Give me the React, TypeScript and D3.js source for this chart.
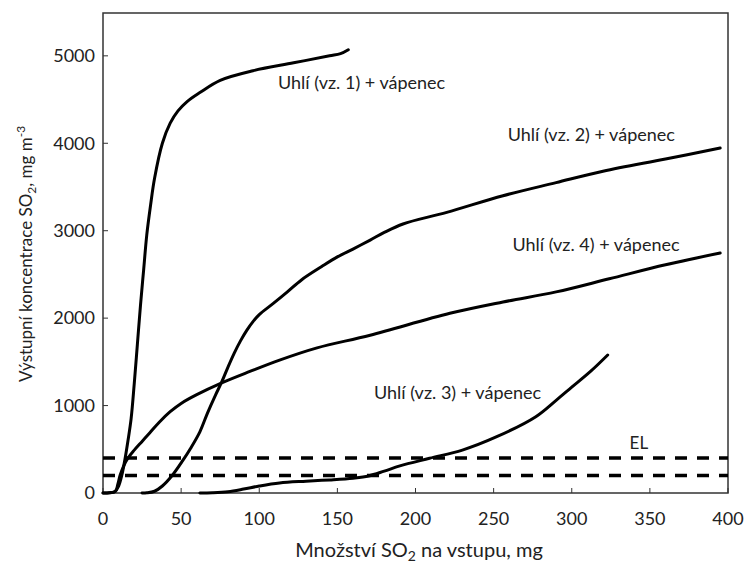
import React from 'react';
import * as d3 from 'd3';

// series (x = mg SO2 in, y = mg/m3 out)
const coal1: [number, number][] = [
  [0, 0], [4, 3], [7.5, 15], [10, 80], [12, 200], [14, 380], [16, 600], [18, 850],
  [20, 1250], [22, 1700], [24, 2150], [26, 2550], [28, 2950], [30.5, 3300], [33, 3600],
  [38, 4000], [43, 4230], [48, 4370], [54, 4480], [62, 4580], [75, 4720], [96, 4830],
  [122, 4920], [145, 5000], [152, 5025], [157, 5070],
];
const coal2: [number, number][] = [
  [25, 0], [28, 2], [33, 20], [38, 80], [44, 194], [51, 370], [56, 510], [62, 700],
  [67, 920], [72, 1120], [76, 1270], [80, 1440], [84, 1600], [88, 1740], [92, 1860],
  [96, 1960], [100, 2040], [109, 2168], [118, 2300], [127, 2437], [140, 2590], [150, 2700],
  [160, 2790], [171, 2893], [180, 2980], [192, 3077], [220, 3210], [256, 3400], [290, 3550],
  [320, 3680], [360, 3820], [395, 3945],
];
const coal3: [number, number][] = [
  [62, 0], [70, 3], [80, 15], [90, 45], [100, 80], [113, 115], [130, 135], [145, 150],
  [160, 170], [170, 195], [180, 250], [190, 310], [209, 397], [230, 491], [252, 644],
  [277, 873], [290, 1060], [300, 1210], [312, 1390], [323, 1578],
];
const coal4: [number, number][] = [
  [0, 0], [4, 2], [8, 20], [9.5, 100], [10.9, 200], [13, 300], [16, 400], [20, 490],
  [25, 590], [30, 690], [36, 810], [43, 930], [50, 1025], [60, 1125], [76, 1260], [94, 1390],
  [113, 1520], [137, 1660], [171, 1805], [222, 2055], [256, 2185], [290, 2300], [324, 2450],
  [360, 2610], [395, 2745],
];
const seriesNames = ['Uhlí (vz. 1) + vápenec', 'Uhlí (vz. 2) + vápenec', 'Uhlí (vz. 3) + vápenec', 'Uhlí (vz. 4) + vápenec'];
// label anchor points in data units
const labelAt: [number, number][] = [[112, 4690], [259, 4095], [173.4, 1144], [262, 2837]];
const limitLines = [400, 200];
const xTicks = [0, 50, 100, 150, 200, 250, 300, 350, 400];
const yTicks = [0, 1000, 2000, 3000, 4000, 5000];

const W = 748, H = 563;
const m = { top: 13, right: 20, bottom: 70, left: 103 };
const font = 'Lato, "Open Sans", sans-serif';
const ink = '#222';

export default function App() {
  const x = d3.scaleLinear().domain([0, 400]).range([m.left, W - m.right]);
  const y = d3.scaleLinear().domain([0, 5490]).range([H - m.bottom, m.top]);
  const line = d3.line<[number, number]>()
    .x(d => x(d[0]))
    .y(d => y(d[1]))
    .curve(d3.curveCatmullRom.alpha(0.5));
  const all = [coal1, coal2, coal3, coal4];

  return (
    <svg width={W} height={H} style={{ position: 'absolute', left: 0, top: 0, background: '#fff' }}
      fontFamily={font}>
      {/* frame */}
      <rect x={x(0)} y={y(5490)} width={x(400) - x(0)} height={y(0) - y(5490)}
        fill="none" stroke="#333" strokeWidth={1.5} />

      {/* ticks, pointing inward */}
      {xTicks.map(t => (
        <g key={'x' + t}>
          <line x1={x(t)} x2={x(t)} y1={y(0)} y2={y(0) - 5} stroke="#333" strokeWidth={1} />
          <text x={x(t)} y={y(0) + 32} textAnchor="middle" fontSize={18} fill={ink}>{t}</text>
        </g>
      ))}
      {yTicks.map(t => (
        <g key={'y' + t}>
          <line x1={x(0)} x2={x(0) + 5} y1={y(t)} y2={y(t)} stroke="#333" strokeWidth={1} />
          <text x={x(0) - 8} y={y(t)} dy="0.35em" textAnchor="end" fontSize={18} fill={ink}>{t}</text>
        </g>
      ))}

      {/* limit lines */}
      {limitLines.map(v => (
        <line key={'el' + v} x1={x(0)} x2={x(400)} y1={y(v)} y2={y(v)}
          stroke="#000" strokeWidth={3.5} strokeDasharray="12 10" />
      ))}
      <text x={x(337)} y={y(572)} dy="0.35em" fontSize={17} fill={ink}>EL</text>

      {all.map((s, i) => (
        <path key={i} d={line(s) ?? ''} fill="none" stroke="#000" strokeWidth={3}
          strokeLinejoin="round" strokeLinecap="round" />
      ))}
      {seriesNames.map((n, i) => (
        <text key={n} x={x(labelAt[i][0])} y={y(labelAt[i][1])} dy="0.35em" fontSize={18} fill={ink}>{n}</text>
      ))}

      {/* axis titles */}
      <text x={419} y={557} textAnchor="middle" fontSize={20} fill={ink}>
        Množství SO<tspan fontSize={14} dy={4}>2</tspan><tspan dy={-4}> na vstupu, mg</tspan>
      </text>
      <text transform={`translate(32, ${254}) rotate(-90)`} textAnchor="middle" fontSize={17} fill={ink}>
        Výstupní koncentrace SO<tspan fontSize={12} dy={4}>2</tspan><tspan dy={-4}>, mg m</tspan>
        <tspan fontSize={12} dy={-7}>-3</tspan>
      </text>
    </svg>
  );
}
